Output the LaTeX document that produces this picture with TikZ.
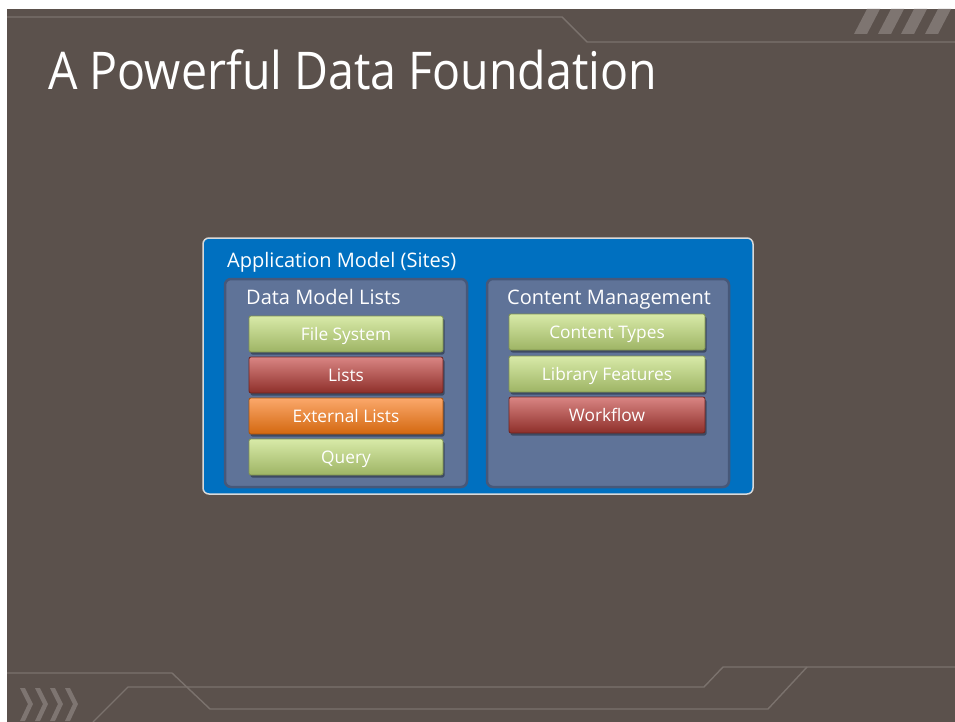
\documentclass[tikz,border=0pt]{standalone}
\usepackage{fontspec}
\setmainfont{Open Sans}
\usetikzlibrary{shadows}
\definecolor{slidebg}{HTML}{5B514C}
\definecolor{decoline}{HTML}{7B726D}
\definecolor{decofill}{HTML}{7E7571}
\definecolor{appblue}{HTML}{0070C0}
\definecolor{panelfill}{HTML}{5F7398}
\definecolor{paneldraw}{HTML}{475879}
\definecolor{gtop}{HTML}{D8EAA8}
\definecolor{gbot}{HTML}{9EB465}
\definecolor{gdraw}{HTML}{7F9250}
\definecolor{rtop}{HTML}{D98583}
\definecolor{rbot}{HTML}{8E2F2A}
\definecolor{rdraw}{HTML}{6E2420}
\definecolor{otop}{HTML}{FBA86B}
\definecolor{obot}{HTML}{D36810}
\definecolor{odraw}{HTML}{A8520C}
\tikzset{
  deco/.style={draw=decoline, line width=1.4pt},
  decoshape/.style={fill=decofill, draw=none},
  panel/.style={draw=paneldraw, fill=panelfill, line width=2.5pt, rounded corners=6pt},
  paneltitle/.style={anchor=base west, text=white, inner sep=0pt, font=\fontsize{20}{24}\selectfont},
  bar/.style={minimum height=36pt, inner sep=0pt, rounded corners=2pt, text=white,
    text height=14pt, text depth=2pt,
    font=\fontsize{17.3}{20}\selectfont, line width=0.8pt,
    drop shadow={shadow xshift=1.5pt, shadow yshift=-2.5pt, opacity=0.35, fill=black}},
  lbar/.style={bar, minimum width=194pt},
  rbar/.style={bar, minimum width=196pt},
  greenbar/.style={top color=gtop, bottom color=gbot, draw=gdraw},
  redbar/.style={top color=rtop, bottom color=rbot, draw=rdraw},
  orangebar/.style={top color=otop, bottom color=obot, draw=odraw},
}
\begin{document}
\begin{tikzpicture}[x=1pt,y=-1pt]
\useasboundingbox (0,0) rectangle (955,722);
\fill[white] (0,0) rectangle (955,722);
\fill[slidebg] (7,9) rectangle (955,722);
% top decoration
\draw[deco] (7,17) -- (562,17) -- (587,42) -- (955,42);
\foreach \x in {854,878,901,925}
  \fill[decoshape] (\x,34) -- (\x+13,34) -- (\x+26,9) -- (\x+13,9) -- cycle;
% bottom decoration
\draw[deco] (7,673) -- (172,673) -- (210,709) -- (768,709) -- (807,667);
\draw[deco] (93,722) -- (128,687) -- (704,687) -- (723,667) -- (955,667);
\foreach \x in {20,35,50,65}
  \fill[decoshape] (\x,688) -- (\x+5,688) -- (\x+13,704) -- (\x+5,721) -- (\x,721) -- (\x+8,704) -- cycle;
% title
\node[anchor=base west, inner sep=0pt, text=white, font=\fontsize{52}{60}\selectfont] (title) at (48,90) {\scalebox{0.895}[1]{A Powerful Data Foundation}};
% application model
\draw[draw=white!85!black, fill=appblue, line width=1.5pt, rounded corners=6pt] (203,238) rectangle (753,494);
\node[anchor=base west, text=white, inner sep=0pt, font=\fontsize{20}{24}\selectfont] (app) at (227,267) {Application Model (Sites)};
% panels
\draw[panel] (225,279) rectangle (467,487);
\draw[panel] (487,279) rectangle (729,487);
\node[paneltitle] (dml) at (246,304) {Data Model Lists};
\node[paneltitle] (cm) at (507,304) {Content Management};
% left bars
\node[lbar, greenbar] (fs) at (346,334) {File System};
\node[lbar, redbar] (lists) at (346,375) {Lists};
\node[lbar, orangebar] (ext) at (346,416) {External Lists};
\node[lbar, greenbar] (query) at (346,457) {Query};
% right bars
\node[rbar, greenbar] (ct) at (607,332) {Content Types};
\node[rbar, greenbar] (lf) at (607,374) {Library Features};
\node[rbar, redbar] (wf) at (607,415) {Workflow};
\end{tikzpicture}
\end{document}
